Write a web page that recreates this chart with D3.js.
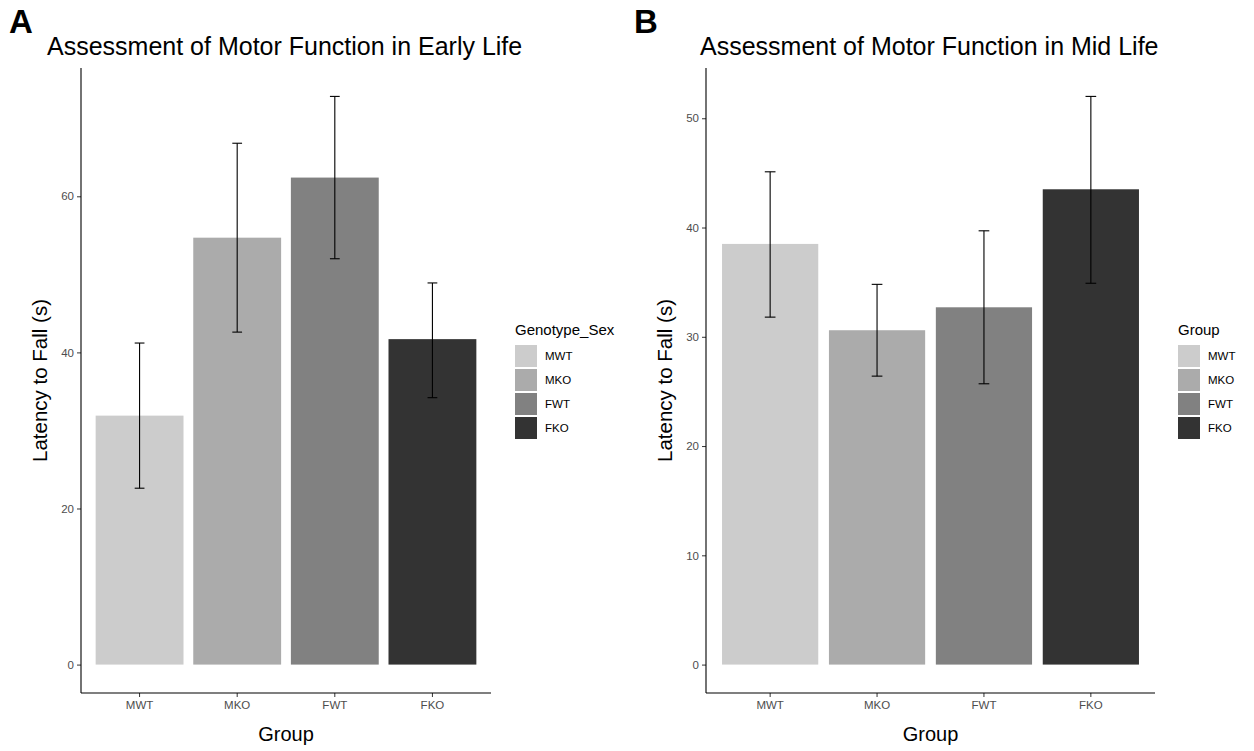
<!DOCTYPE html>
<html>
<head>
<meta charset="utf-8">
<script src="https://cdn.jsdelivr.net/npm/d3@7"></script>
<style>
  body { margin: 0; background: #fff; }
  svg { display: block; font-family: "Liberation Sans", Arial, sans-serif; }
</style>
</head>
<body>
<div id="chart"></div>
<script>
// groups and fill colours (grey scale, light -> dark)
const groups = ["MWT", "MKO", "FWT", "FKO"];
const fills = ["#cccccc", "#ababab", "#818181", "#333333"];

// panel A: early life
const earlyMeans = [31.9, 54.7, 62.4, 41.7];
const earlyLower = [22.6, 42.6, 52.0, 34.2];
const earlyUpper = [41.2, 66.8, 72.8, 48.9];
const earlyTicks = [0, 20, 40, 60];

// panel B: mid life
const midMeans = [38.5, 30.6, 32.7, 43.5];
const midLower = [31.8, 26.4, 25.7, 34.9];
const midUpper = [45.1, 34.8, 39.7, 52.0];
const midTicks = [0, 10, 20, 30, 40, 50];

const width = 1254, height = 751;

const svg = d3.select("#chart").append("svg")
  .attr("width", width)
  .attr("height", height);

svg.append("rect").attr("width", width).attr("height", height).attr("fill", "#fff");

function drawPanel(opts) {
  var rows = groups.map(function(g, i) {
    return { group: g, mean: opts.means[i], lo: opts.lower[i], hi: opts.upper[i], fill: fills[i] };
  });

  var top = 68, bottom = 693;
  var ymax = d3.max(rows, d => d.hi);
  var y = d3.scaleLinear()
    .domain([-0.05 * ymax, 1.05 * ymax])
    .range([bottom, top]);

  var x = d3.scaleBand()
    .domain(groups)
    .range([opts.left, opts.right])
    .paddingInner(0.1)
    .paddingOuter(0.15);

  var g = svg.append("g");

  // bars
  g.selectAll(".bar")
    .data(rows)
    .enter()
    .append("rect")
    .attr("class", "bar")
    .attr("x", d => x(d.group))
    .attr("width", x.bandwidth())
    .attr("y", d => y(d.mean))
    .attr("height", d => y(0) - y(d.mean))
    .attr("fill", d => d.fill);

  // error bars
  var cap = x.step() * 0.1 / 2;
  var eb = g.selectAll(".err")
    .data(rows)
    .enter()
    .append("g")
    .attr("class", "err")
    .attr("stroke", "#000")
    .attr("stroke-width", 1.1);
  eb.append("line")
    .attr("x1", d => x(d.group) + x.bandwidth() / 2)
    .attr("x2", d => x(d.group) + x.bandwidth() / 2)
    .attr("y1", d => y(d.lo))
    .attr("y2", d => y(d.hi));
  eb.append("line")
    .attr("x1", d => x(d.group) + x.bandwidth() / 2 - cap)
    .attr("x2", d => x(d.group) + x.bandwidth() / 2 + cap)
    .attr("y1", d => y(d.hi))
    .attr("y2", d => y(d.hi));
  eb.append("line")
    .attr("x1", d => x(d.group) + x.bandwidth() / 2 - cap)
    .attr("x2", d => x(d.group) + x.bandwidth() / 2 + cap)
    .attr("y1", d => y(d.lo))
    .attr("y2", d => y(d.lo));

  // y axis
  var yAxis = g.append("g")
    .attr("transform", "translate(" + opts.left + ",0)")
    .call(d3.axisLeft(y).tickValues(opts.ticks).tickSize(4).tickPadding(3));
  yAxis.select(".domain").remove();
  yAxis.append("line")
    .attr("y1", top).attr("y2", bottom)
    .attr("stroke", "#000").attr("stroke-width", 1.1);
  yAxis.selectAll(".tick line").attr("stroke", "#333");
  yAxis.selectAll(".tick text")
    .attr("fill", "#4d4d4d")
    .attr("font-size", "11.5px")
    .attr("font-family", "Liberation Sans, Arial, sans-serif");

  // x axis
  var xAxis = g.append("g")
    .attr("transform", "translate(0," + bottom + ")")
    .call(d3.axisBottom(x).tickSize(4).tickPadding(4));
  xAxis.select(".domain").remove();
  xAxis.append("line")
    .attr("x1", opts.left).attr("x2", opts.right)
    .attr("stroke", "#000").attr("stroke-width", 1.1);
  xAxis.selectAll(".tick line").attr("stroke", "#333");
  xAxis.selectAll(".tick text")
    .attr("fill", "#4d4d4d")
    .attr("font-size", "11.5px")
    .attr("font-family", "Liberation Sans, Arial, sans-serif");

  // axis titles
  g.append("text")
    .attr("x", (opts.left + opts.right) / 2)
    .attr("y", 741)
    .attr("text-anchor", "middle")
    .attr("font-size", "20px")
    .attr("fill", "#000")
    .text("Group");

  g.append("text")
    .attr("transform", "translate(" + (opts.left - 34) + "," + ((top + bottom) / 2) + ") rotate(-90)")
    .attr("text-anchor", "middle")
    .attr("font-size", "20.5px")
    .attr("fill", "#000")
    .text("Latency to Fall (s)");

  // plot title and panel tag
  g.append("text")
    .attr("x", opts.titleX)
    .attr("y", 55)
    .attr("font-size", "25px")
    .attr("fill", "#000")
    .text(opts.title);

  g.append("text")
    .attr("x", opts.tagX)
    .attr("y", 33)
    .attr("font-size", "33px")
    .attr("font-weight", "bold")
    .attr("fill", "#000")
    .text(opts.tag);

  // legend
  var lg = g.append("g").attr("transform", "translate(" + opts.legendX + ",345)");
  lg.append("text")
    .attr("x", 0)
    .attr("y", -10)
    .attr("font-size", "15px")
    .attr("fill", "#000")
    .text(opts.legendTitle);
  var item = lg.selectAll(".key")
    .data(rows)
    .enter()
    .append("g")
    .attr("class", "key")
    .attr("transform", (d, i) => "translate(0," + (i * 24) + ")");
  item.append("rect")
    .attr("width", 22)
    .attr("height", 22)
    .attr("fill", d => d.fill);
  item.append("text")
    .attr("x", 30)
    .attr("y", 15)
    .attr("font-size", "11.5px")
    .attr("fill", "#000")
    .text(d => d.group);
}

drawPanel({
  means: earlyMeans, lower: earlyLower, upper: earlyUpper, ticks: earlyTicks,
  left: 81, right: 491,
  title: "Assessment of Motor Function in Early Life", titleX: 47,
  tag: "A", tagX: 9,
  legendTitle: "Genotype_Sex", legendX: 515
});

drawPanel({
  means: midMeans, lower: midLower, upper: midUpper, ticks: midTicks,
  left: 706, right: 1155,
  title: "Assessment of Motor Function in Mid Life", titleX: 700,
  tag: "B", tagX: 634,
  legendTitle: "Group", legendX: 1178
});
</script>
</body>
</html>
